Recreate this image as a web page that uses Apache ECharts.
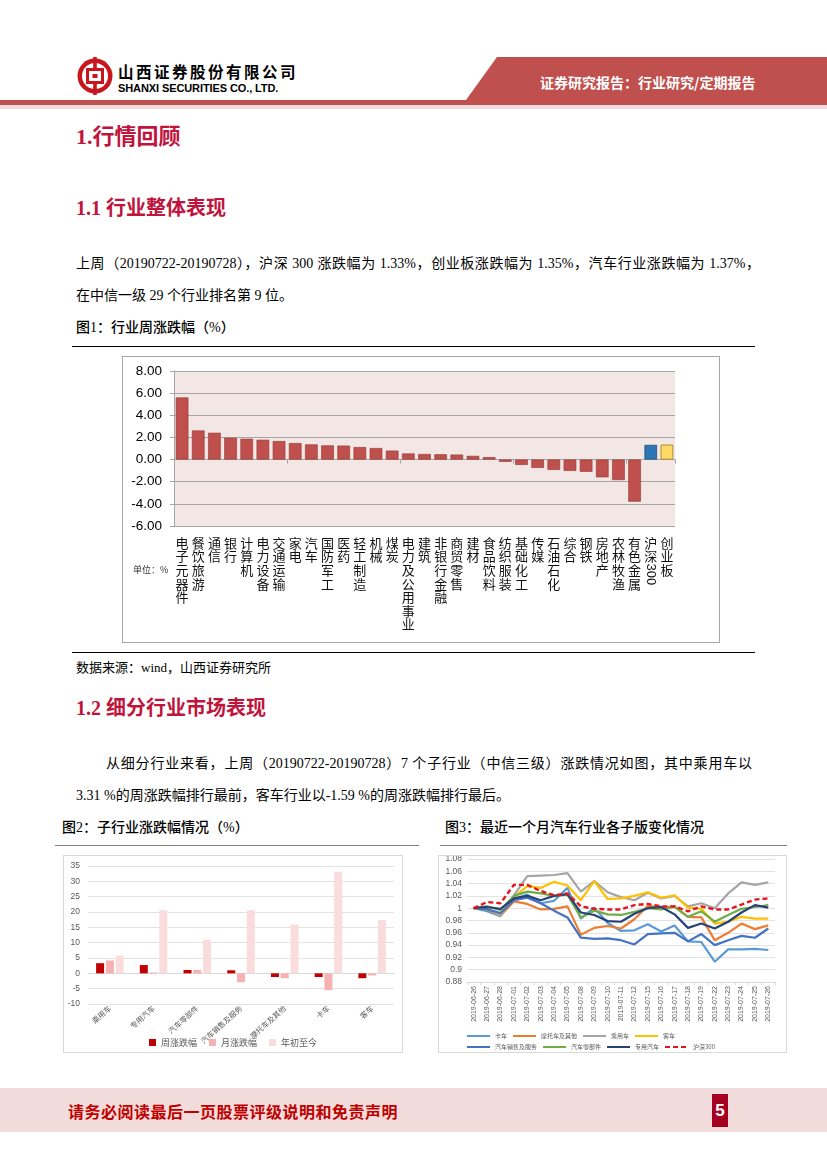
<!DOCTYPE html>
<html><head><meta charset="utf-8">
<script src="https://cdn.jsdelivr.net/npm/echarts@6.0.0/dist/echarts.min.js"></script>
<style>
html,body{margin:0;padding:0;}
body{width:827px;height:1169px;position:relative;background:#fff;overflow:hidden;font-family:"Liberation Serif","Noto Sans CJK SC",serif;color:#000;}
.t{position:absolute;white-space:nowrap;}
.h1{font-size:22px;font-weight:bold;color:#C0143C;line-height:28px;}
.h2{font-size:20px;font-weight:bold;color:#C0143C;line-height:28px;}
.p{font-size:14px;line-height:20px;}
.just{text-align:justify;text-align-last:justify;}
.fig{font-size:14px;line-height:20px;font-family:"Liberation Serif","Noto Sans CJK SC";font-weight:500;}
.hr{position:absolute;height:0;border-top:1px solid #000;}
</style></head>
<body>
<svg class="t" style="left:0;top:0" width="827" height="112">
  <polygon points="497,57 827,57 827,100 466,100" fill="#C0504D"/>
  <rect x="0" y="100" width="827" height="5" fill="#C0504D"/>
  <rect x="0" y="105" width="827" height="4" fill="#F2DCDB"/>
  <g transform="translate(76,57)">
    <circle cx="19" cy="19" r="17.5" fill="#C8161D"/>
    <circle cx="19" cy="19" r="13" fill="#fff"/>
    <rect x="10" y="11" width="18" height="16" fill="#C8161D"/>
    <rect x="13" y="14" width="12" height="10" fill="#fff"/>
    <rect x="16.5" y="17" width="5" height="4" fill="#C8161D"/>
    <rect x="17.2" y="0" width="3.6" height="11" fill="#C8161D"/>
    <rect x="17.2" y="27" width="3.6" height="11" fill="#C8161D"/>
  </g>
</svg>
<div class="t" style="left:118px;top:61px;font-family:'Noto Sans CJK SC';font-weight:bold;font-size:15.5px;letter-spacing:2.5px;line-height:20px;">山西证券股份有限公司</div>
<div class="t" style="left:118px;top:81px;font-family:'Liberation Sans';font-weight:bold;font-size:11px;line-height:14px;letter-spacing:-0.1px;">SHANXI SECURITIES CO., LTD.</div>
<div class="t" style="left:540px;top:72px;font-family:'Noto Sans CJK SC';font-weight:bold;font-size:14px;line-height:20px;color:#fff;">证券研究报告：行业研究/定期报告</div>

<div class="t h1" style="left:76px;top:123px;">1.行情回顾</div>
<div class="t h2" style="left:76px;top:194px;">1.1 行业整体表现</div>
<div class="t p just" style="left:76px;top:254px;width:684px;">上周（20190722-20190728），沪深 300 涨跌幅为 1.33%，创业板涨跌幅为 1.35%，汽车行业涨跌幅为 1.37%，</div>
<div class="t p" style="left:76px;top:286px;">在中信一级 29 个行业排名第 9 位。</div>
<div class="t fig" style="left:76px;top:318px;">图1：行业周涨跌幅（%）</div>
<div class="hr" style="left:72px;top:346px;width:683px;"></div>

<div style="position:absolute;left:122px;top:356px;width:596px;height:285px;border:1px solid #A6A6A6;">
  <div id="c1" style="width:596px;height:285px;"></div>
</div>
<div class="t" style="left:133px;top:564px;font-family:'Noto Sans CJK SC';font-size:9px;line-height:12px;color:#333;">单位：%</div>

<div class="hr" style="left:72px;top:652px;width:683px;"></div>
<div class="t p" style="left:76px;top:658px;font-size:13px;">数据来源：wind，山西证券研究所</div>

<div class="t h2" style="left:76px;top:694px;">1.2 细分行业市场表现</div>
<div class="t p just" style="left:106px;top:754px;width:646px;">从细分行业来看，上周（20190722-20190728）7 个子行业（中信三级）涨跌情况如图，其中乘用车以</div>
<div class="t p" style="left:76px;top:786px;">3.31 %的周涨跌幅排行最前，客车行业以-1.59 %的周涨跌幅排行最后。</div>
<div class="t fig" style="left:62px;top:818px;">图2：子行业涨跌幅情况（%）</div>
<div class="t fig" style="left:445px;top:818px;">图3：最近一个月汽车行业各子版变化情况</div>
<div class="hr" style="left:55px;top:845px;width:364px;border-color:#7F7F7F;"></div>
<div class="hr" style="left:440px;top:845px;width:347px;border-color:#7F7F7F;"></div>

<div style="position:absolute;left:63px;top:855px;width:338px;height:196px;border:1px solid #D9D9D9;">
  <div id="c2" style="width:338px;height:196px;"></div>
</div>
<div style="position:absolute;left:438px;top:855px;width:347px;height:196px;border:1px solid #D9D9D9;">
  <div id="c3" style="width:347px;height:196px;"></div>
</div>

<div style="position:absolute;left:0;top:1088px;width:827px;height:44px;background:#F2DCDB;"></div>
<div class="t" style="left:68px;top:1099px;font-family:'Noto Sans CJK SC';font-weight:bold;font-size:16px;letter-spacing:0.5px;line-height:24px;color:#C00000;">请务必阅读最后一页股票评级说明和免责声明</div>
<div style="position:absolute;left:712px;top:1094px;width:16px;height:33px;background:#A50021;color:#fff;font-family:'Liberation Sans';font-weight:bold;font-size:17px;line-height:33px;text-align:center;">5</div>

<script>
// ---------- Figure 1 data ----------
const industries = ['电子元器件','餐饮旅游','通信','银行','计算机','电力设备','交通运输','家电','汽车','国防军工','医药','轻工制造','机械','煤炭','电力及公用事业','建筑','非银行金融','商贸零售','建材','食品饮料','纺织服装','基础化工','传媒','石油石化','综合','钢铁','房地产','农林牧渔','有色金属','沪深300','创业板'];
const weeklyChange = [5.61,2.63,2.42,1.97,1.88,1.79,1.67,1.49,1.37,1.28,1.26,1.13,1.04,0.81,0.55,0.50,0.48,0.45,0.33,0.22,-0.20,-0.48,-0.75,-0.93,-1.02,-1.10,-1.60,-1.85,-3.80,1.33,1.35];
const yTicks1 = {min:-6, max:8, interval:2};

// ---------- Figure 2 data ----------
const subIndustries = ['乘用车','专用汽车','汽车零部件','汽车销售及服务','摩托车及其他','卡车','客车'];
const weekChg  = [3.31, 2.70, 1.10, 1.00, -1.20, -1.20, -1.59];
const monthChg = [4.20, 0.30, 1.10, -2.90, -1.60, -5.50, -0.70];
const ytdChg   = [5.80, 20.60, 11.00, 20.60, 15.90, 33.10, 17.40];
const legend2 = ['周涨跌幅','月涨跌幅','年初至今'];

// ---------- Figure 3 data ----------
const dates = ['2019-06-26','2019-06-27','2019-06-28','2019-07-01','2019-07-02','2019-07-03','2019-07-04','2019-07-05','2019-07-08','2019-07-09','2019-07-10','2019-07-11','2019-07-12','2019-07-15','2019-07-16','2019-07-17','2019-07-18','2019-07-19','2019-07-22','2019-07-23','2019-07-24','2019-07-25','2019-07-26'];
const truck      = [1.000,0.995,0.987,1.015,1.022,1.008,1.012,1.033,0.983,1.001,0.976,0.963,0.964,0.974,0.962,0.972,0.946,0.945,0.913,0.933,0.933,0.934,0.932];
const motorcycle = [1.000,0.998,0.988,1.011,1.007,0.998,0.999,1.003,0.957,0.968,0.971,0.967,0.982,1.004,1.001,1.003,0.986,0.985,0.948,0.960,0.975,0.966,0.972];
const passenger  = [1.000,1.000,0.988,1.021,1.052,1.053,1.054,1.057,1.027,1.044,1.026,1.018,1.013,1.025,1.016,1.020,1.003,1.008,1.000,1.024,1.042,1.038,1.042];
const bus        = [1.000,0.998,0.991,1.018,1.036,1.033,1.043,1.037,1.013,1.044,1.015,1.016,1.020,1.026,1.017,1.021,1.001,0.999,0.975,0.978,0.986,0.983,0.983];
const autoSales  = [1.000,0.998,0.992,1.013,1.017,1.008,0.996,0.985,0.952,0.950,0.951,0.948,0.941,0.958,0.959,0.960,0.946,0.958,0.940,0.948,0.955,0.952,0.967];
const autoParts  = [1.000,1.003,0.997,1.020,1.027,1.024,1.020,1.022,0.985,0.996,0.990,0.989,0.994,1.000,0.998,1.002,0.986,0.995,0.978,0.989,0.999,1.002,1.005];
const specialVeh = [1.000,1.002,0.999,1.016,1.020,1.013,1.020,1.023,0.993,0.989,0.979,0.978,0.991,1.000,1.002,0.990,0.968,0.975,0.967,0.978,0.993,1.005,1.001];
const hs300      = [1.000,1.010,1.008,1.038,1.038,1.028,1.021,1.024,1.003,0.999,0.998,0.998,1.005,1.007,1.003,1.003,0.995,1.003,0.998,0.998,1.006,1.014,1.016];
const lineNames  = ['卡车','摩托车及其他','乘用车','客车','汽车销售及服务','汽车零部件','专用汽车','沪深300'];
const lineColors = ['#5B9BD5','#ED7D31','#A5A5A5','#FFC000','#4472C4','#70AD47','#264478','#E8141B'];
const lineData   = [truck, motorcycle, passenger, bus, autoSales, autoParts, specialVeh, hs300];

// ---------- Chart 1 ----------
const c1 = echarts.init(document.getElementById('c1'));
const barColor = (i) => i === 29 ? {color:'#2E75B6', borderColor:'#1F4E79', borderWidth:0.8}
                     : i === 30 ? {color:'#FFD966', borderColor:'#A07A1A', borderWidth:0.8}
                     : {color:'#C0504D', borderColor:'#8E3532', borderWidth:0.6};
c1.setOption({
  animation:false,
  grid:{left:51,right:44,top:14,bottom:116,show:true,backgroundColor:'#F3E7E6',borderWidth:0,outerBoundsMode:'none',containLabel:false},
  xAxis:[
    {type:'category',data:industries,position:'bottom',
     axisLine:{show:false,onZero:false},axisTick:{show:false},splitLine:{show:false},
     axisLabel:{interval:0,hideOverlap:false,fontSize:13,lineHeight:13.6,margin:10,color:'#111',fontFamily:'Noto Sans CJK SC',
       formatter:v=> v==='沪深300' ? '沪\n深' : v.split('').join('\n')}},
    {type:'category',data:industries,position:'bottom',
     axisLine:{show:true,onZero:true,lineStyle:{color:'#A6A6A6',width:1}},
     axisTick:{show:true,length:4,lineStyle:{color:'#A6A6A6'}},axisLabel:{show:false},splitLine:{show:false}}
  ],
  yAxis:{type:'value',min:yTicks1.min,max:yTicks1.max,interval:yTicks1.interval,
    axisLine:{show:true,lineStyle:{color:'#A6A6A6'}},axisTick:{show:true,length:4,lineStyle:{color:'#A6A6A6'}},
    axisLabel:{formatter:v=>v.toFixed(2),fontSize:13.5,color:'#000',margin:12,fontFamily:'Liberation Sans'},
    splitLine:{show:true,lineStyle:{color:'#A6A6A6',width:1}}},
  series:[{type:'bar',xAxisIndex:0,barCategoryGap:'22%',
    data:weeklyChange.map((v,i)=>({value:v,itemStyle:barColor(i)}))}]
});
const px300 = c1.convertToPixel({xAxisIndex:0}, '沪深300');
const gridBottomY = 285 - 116;
c1.setOption({graphic:[{type:'text',x:px300,y:gridBottomY+10+27.5,rotation:-Math.PI/2,
  style:{text:'300',font:'13px "Liberation Sans"',fill:'#111',align:'left',verticalAlign:'middle'}}]});

// ---------- Chart 2 ----------
const c2 = echarts.init(document.getElementById('c2'));
c2.setOption({
  animation:false,
  grid:{left:24,right:8,top:10,bottom:48,outerBoundsMode:'none',containLabel:false},
  legend:{data:legend2,left:'center',top:177,icon:'rect',itemWidth:7,itemHeight:7,itemGap:12,
    textStyle:{fontSize:9,color:'#595959',fontFamily:'Noto Sans CJK SC'}},
  xAxis:{type:'category',data:subIndustries,
    axisLine:{onZero:true,lineStyle:{color:'#D9D9D9'}},axisTick:{show:false},
    axisLabel:{interval:0,hideOverlap:false,rotate:42,fontSize:7.5,color:'#595959',margin:3,fontFamily:'Noto Sans CJK SC'}},
  yAxis:{type:'value',min:-10,max:35,interval:5,axisLine:{show:false},axisTick:{show:false},
    axisLabel:{fontSize:8.5,color:'#595959',margin:8,fontFamily:'Liberation Sans'},
    splitLine:{lineStyle:{color:'#E3E3E3',width:1}}},
  series:[
    {name:legend2[0],type:'bar',data:weekChg,barWidth:8,barGap:'22%',itemStyle:{color:'#C00000'}},
    {name:legend2[1],type:'bar',data:monthChg,barWidth:8,barGap:'22%',itemStyle:{color:'#F6B2B2'}},
    {name:legend2[2],type:'bar',data:ytdChg,barWidth:8,barGap:'22%',itemStyle:{color:'#FBDCDC'}}
  ]
});

// ---------- Chart 3 ----------
const c3 = echarts.init(document.getElementById('c3'));
const legStyle = {textStyle:{fontSize:6,color:'#595959',width:47,overflow:'truncate',fontFamily:'Noto Sans CJK SC'},
  itemWidth:23,itemHeight:6,itemGap:5,orient:'horizontal',itemStyle:{opacity:0,borderWidth:0}};
c3.setOption({
  animation:false,
  grid:{left:28,right:11,top:3,bottom:70,outerBoundsMode:'none',containLabel:false},
  legend:[
    Object.assign({data:lineNames.slice(0,4),left:22,top:172},legStyle),
    Object.assign({data:lineNames.slice(4),left:22,top:183},legStyle)
  ],
  xAxis:{type:'category',data:dates,boundaryGap:true,
    axisLine:{lineStyle:{color:'#D9D9D9'}},axisTick:{show:true,length:3,lineStyle:{color:'#D9D9D9'}},
    axisLabel:{interval:0,hideOverlap:false,rotate:90,fontSize:7,color:'#595959',margin:4,fontFamily:'Liberation Sans'}},
  yAxis:{type:'value',min:0.88,max:1.08,interval:0.02,axisLine:{show:false},axisTick:{show:false},
    axisLabel:{fontSize:8.5,color:'#595959',margin:5,fontFamily:'Liberation Sans'},
    splitLine:{lineStyle:{color:'#E3E3E3',width:1}}},
  series:lineNames.map((n,i)=>({name:n,type:'line',data:lineData[i],symbol:'none',smooth:false,
    color:lineColors[i],
    lineStyle:{color:lineColors[i],width:i===7?2.4:2.2,type:i===7?[5,3]:'solid'},z:2+i}))
});
</script>
</body></html>
